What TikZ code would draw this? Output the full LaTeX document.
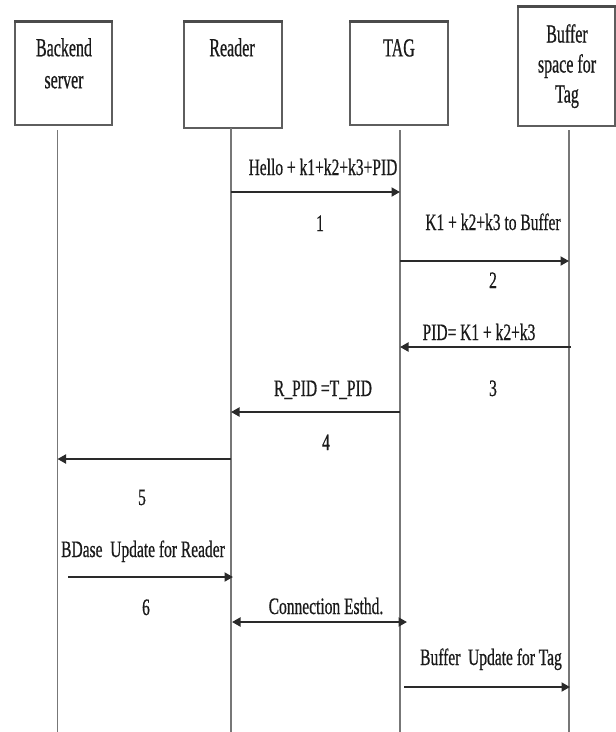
\documentclass[tikz,border=0pt]{standalone}
\usepackage{fontspec}
\setmainfont{Liberation Serif}
\newfontfamily\hdrfont[FakeStretch=0.615,FakeBold=0.6]{Liberation Serif}
\newfontfamily\lblfont[FakeStretch=0.66,FakeBold=0.6]{Liberation Serif}
\usetikzlibrary{arrows.meta}
\definecolor{linegray}{HTML}{777777}
\definecolor{boxgray}{HTML}{5E5E5E}
\definecolor{arrowgray}{HTML}{2A2A2A}
\definecolor{inkc}{HTML}{1A1A1A}
\begin{document}
\begin{tikzpicture}[x=1pt,y=-1pt,
  actor/.style={draw=boxgray, line width=1.3pt, inner sep=0pt, fill=white},
  topedge/.style={draw=boxgray!80!black, line width=2.4pt},
  hdr/.style={anchor=north, inner sep=0pt, align=center, text=inkc, font=\hdrfont\fontsize{26}{32}\selectfont},
  life/.style={draw=linegray, line width=1.3pt},
  msg/.style={draw=arrowgray, line width=1.9pt, -{Triangle[length=8.5pt,width=9pt]}},
  dmsg/.style={draw=arrowgray, line width=1.9pt, {Triangle[length=8.5pt,width=9pt]}-{Triangle[length=8.5pt,width=9pt]}},
  lbl/.style={anchor=base, inner sep=0pt, text=inkc, font=\lblfont\fontsize{23.5}{28}\selectfont}
]
\useasboundingbox (0,0) rectangle (616,732);
\fill[white] (0,0) rectangle (616,732);

% actor boxes
\node[actor, minimum width=97pt, minimum height=103pt] (back) at (63.5,73.5) {};
\node[actor, minimum width=98pt, minimum height=106pt] (reader) at (233,75) {};
\node[actor, minimum width=98pt, minimum height=103pt] (tag) at (399,73.5) {};
\node[actor, minimum width=97pt, minimum height=119pt] (buf) at (566.5,66.5) {};
\foreach \b in {back,reader,tag,buf}{
  \draw[topedge] (\b.north west) -- (\b.north east);
}

% actor titles
\node[hdr] (backtxt) at (64,38) {Backend\\server};
\node[hdr] (readertxt) at (232,38) {Reader};
\node[hdr, font=\hdrfont\fontsize{26}{30}\selectfont] (tagtxt) at (399,39) {TAG};
\node[hdr, font=\hdrfont\fontsize{26}{30}\selectfont] (buftxt) at (567,24) {Buffer\\space for\\Tag};

% lifelines
\coordinate (bottom) at (0,732);
\coordinate (bl) at (57.5,130);
\coordinate (rl) at (231,128);
\coordinate (tl) at (400,130);
\coordinate (ul) at (569,130);
\foreach \l in {bl,rl,tl,ul}{
  \draw[life] (\l) -- (\l |- bottom);
}

% message levels
\coordinate (y1) at (0,192);
\coordinate (y2) at (0,261);
\coordinate (y3) at (0,347);
\coordinate (y4) at (0,412);
\coordinate (y5) at (0,459);
\coordinate (y6) at (0,577);
\coordinate (y7) at (0,622);
\coordinate (y8) at (0,687);

% messages
\draw[msg] (rl |- y1) -- (tl |- y1);
\draw[msg] (tl |- y2) -- (ul |- y2);
\draw[msg] ([xshift=2pt]ul |- y3) -- (tl |- y3);
\draw[msg] (tl |- y4) -- (rl |- y4);
\draw[msg] (rl |- y5) -- (bl |- y5);
\draw[msg] ([xshift=10.5pt]bl |- y6) -- ([xshift=2pt]rl |- y6);
\draw[dmsg] ([xshift=1pt]rl |- y7) -- ([xshift=7pt]tl |- y7);
\draw[msg] ([xshift=4pt]tl |- y8) -- ([xshift=1pt]ul |- y8);

% labels
\node[lbl] (lh) at (323,175) {Hello + k1+k2+k3+PID};
\node[lbl] (n1) at (320,231) {1};
\node[lbl] (lk) at (493,230) {K1 + k2+k3 to Buffer};
\node[lbl] (n2) at (493,288) {2};
\node[lbl] (lp) at (479,340) {PID= K1 + k2+k3};
\node[lbl] (n3) at (493,396) {3};
\node[lbl] (lr) at (323,396) {R\_PID =T\_PID};
\node[lbl] (n4) at (326,450) {4};
\node[lbl] (n5) at (142,505) {5};
\node[lbl] (lb) at (143,557) {BDase\ \ Update for Reader};
\node[lbl] (n6) at (146,615) {6};
\node[lbl] (lc) at (326,614) {Connection Esthd.};
\node[lbl] (lu) at (491,665) {Buffer\ \ Update for Tag};
\end{tikzpicture}
\end{document}
